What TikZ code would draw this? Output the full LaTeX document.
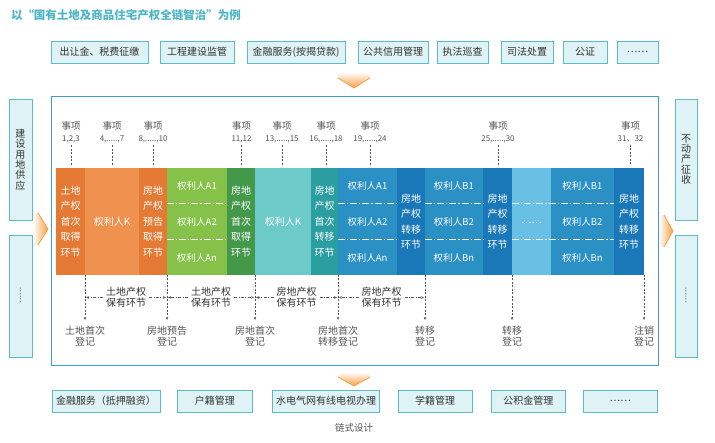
\documentclass[tikz,border=0pt]{standalone}
\usepackage{fontspec}
\setmainfont{Noto Sans CJK SC}
\usetikzlibrary{arrows.meta}
\definecolor{boxfill}{HTML}{DFF2F5}
\definecolor{boxline}{HTML}{5BBCC8}
\definecolor{frameblue}{HTML}{3A9FD4}
\definecolor{titlec}{HTML}{4DB6C6}
\definecolor{txtgray}{HTML}{333333}
\definecolor{lblgray}{HTML}{555555}
\definecolor{arrowor}{HTML}{F7A048}
\definecolor{orA}{HTML}{E57A35}
\definecolor{orB}{HTML}{EF924F}
\definecolor{grA}{HTML}{86C24A}
\definecolor{grB}{HTML}{43984A}
\definecolor{tlA}{HTML}{6CCAC8}
\definecolor{tlB}{HTML}{2A9EA0}
\definecolor{blA}{HTML}{2B90C4}
\definecolor{blB}{HTML}{1A78B8}
\definecolor{blC}{HTML}{68C0E4}
\newcommand{\evdots}{.....}
\begin{document}
\begin{tikzpicture}[x=1pt,y=-1pt,
  every node/.style={inner sep=0pt, outer sep=0pt},
  svcbox/.style={draw=boxline, fill=boxfill, line width=0.9pt, minimum height=22pt, text=txtgray, font=\fontsize{10}{12}\selectfont},
  sidebox/.style={draw=boxline, fill=boxfill, line width=0.9pt, minimum width=23pt, text=txtgray, font=\fontsize{10}{10.4}\selectfont, align=center},
  col/.style={minimum height=107pt, text=white, font=\fontsize{10}{15.5}\selectfont, align=center},
  celltxt/.style={text=white, font=\fontsize{9.5}{11}\selectfont},
  rowsep/.style={draw=white, line width=0.8pt, dash pattern=on 7pt off 2pt on 1.2pt off 2pt},
  evtxt/.style={text=lblgray, font=\fontsize{9.5}{11}\selectfont},
  evnum/.style={text=lblgray, font=\fontsize{8}{9}\selectfont},
  evline/.style={draw=lblgray, line width=0.6pt, dash pattern=on 2pt off 1.5pt},
  regtxt/.style={text=lblgray, font=\fontsize{10}{11}\selectfont, align=center},
  regline/.style={draw=lblgray, line width=0.6pt, dash pattern=on 2pt off 1.5pt, -{Stealth[length=3pt,width=2.5pt]}},
  holdtxt/.style={text=txtgray, font=\fontsize{10}{11}\selectfont, align=center, fill=white, inner xsep=3pt},
  holdline/.style={draw=lblgray, line width=0.6pt, dash pattern=on 3pt off 1.5pt on 0.8pt off 1.5pt, -{Stealth[length=3pt,width=2.5pt]}},
  chevedge/.style={draw=arrowor, line width=0.8pt, line join=miter}
]
\useasboundingbox (0,0) rectangle (715,443);
\fill[white] (0,0) rectangle (715,443);

% title
\node[anchor=west, text=titlec, font=\fontsize{11.5}{13}\selectfont\bfseries] (title) at (11,15) {以“国有土地及商品住宅产权全链智治”为例};

% top service boxes
\node[svcbox, minimum width=97pt] (t1) at (99.5,52) {出让金、税费征缴};
\node[svcbox, minimum width=74pt] (t2) at (197,52) {工程建设监管};
\node[svcbox, minimum width=98pt] (t3) at (296,52) {金融服务(按揭贷款)};
\node[svcbox, minimum width=70pt] (t4) at (393,52) {公共信用管理};
\node[svcbox, minimum width=51pt] (t5) at (462.5,52) {执法巡查};
\node[svcbox, minimum width=52pt] (t6) at (527,52) {司法处置};
\node[svcbox, minimum width=44pt] (t7) at (585,52) {公证};
\node[svcbox, minimum width=41pt] (t8) at (637.5,52) {……};

% top arrow
\shade[top color=white, bottom color=arrowor] (340,72) -- (368,72) -- (370,78) -- (354,88) -- (338,78) -- cycle;
\draw[chevedge] (338,78) -- (354,88) -- (370,78);

% frame
\node[draw=frameblue, line width=1pt, minimum width=607pt, minimum height=269pt] (frame) at (354.5,231.5) {};

% side boxes
\node[sidebox, minimum height=121pt] (l1) at (20.5,159.5) {建\\设\\用\\地\\供\\应};
\node[sidebox, minimum height=122pt] (l2) at (20.5,296) {};
\node[rotate=90, text=txtgray, font=\fontsize{7.5}{8}\selectfont] (l2d) at (l2.center) {……};
\node[sidebox, minimum width=22pt, minimum height=121pt] (s1) at (686,159.5) {不\\动\\产\\征\\收};
\node[sidebox, minimum width=22pt, minimum height=122pt] (s2) at (686,296) {};
\node[rotate=90, text=txtgray, font=\fontsize{7.5}{8}\selectfont] (s2d) at (s2.center) {……};

% side arrows
\shade[left color=white, right color=arrowor] (33,214) -- (38,213) -- (48,229) -- (38,245) -- (33,244) -- cycle;
\draw[chevedge] (38,213) -- (48,229) -- (38,245);
\shade[left color=white, right color=arrowor] (659,216) -- (664,215) -- (673,231) -- (664,247) -- (659,246) -- cycle;
\draw[chevedge] (664,215) -- (673,231) -- (664,247);

% band columns
\node[col, fill=orA, minimum width=29pt] (c1) at (70.5,221.5) {土地\\产权\\首次\\取得\\环节};
\node[col, fill=orB, minimum width=54pt] (c2) at (112,221.5) {权利人K};
\node[col, fill=orA, minimum width=28pt] (c3) at (153,221.5) {房地\\产权\\预告\\取得\\环节};
\node[col, fill=grA, minimum width=60pt] (c4) at (197,221.5) {};
\node[col, fill=grB, minimum width=28pt] (c5) at (241,221.5) {房地\\产权\\首次\\取得\\环节};
\node[col, fill=tlA, minimum width=56pt] (c6) at (283,221.5) {权利人K};
\node[col, fill=tlB, minimum width=27pt] (c7) at (324.5,221.5) {房地\\产权\\首次\\转移\\环节};
\node[col, fill=blA, minimum width=59pt] (c8) at (367.5,221.5) {};
\node[col, fill=blB, minimum width=28pt] (c9) at (411,221.5) {房地\\产权\\转移\\环节};
\node[col, fill=blA, minimum width=58pt] (c10) at (454,221.5) {};
\node[col, fill=blB, minimum width=29pt] (c11) at (497.5,221.5) {房地\\产权\\转移\\环节};
\node[col, fill=blC, minimum width=39pt] (c12) at (531.5,221.5) {};
\node[col, fill=blA, minimum width=63pt] (c13) at (582.5,221.5) {};
\node[col, fill=blB, minimum width=30pt] (c14) at (629,221.5) {房地\\产权\\转移\\环节};

% row separators
\foreach \a/\b in {c4/c4, c8/c8, c10/c10, c12/c13} {
  \draw[rowsep] ([yshift=18.5pt]\a.west) -- ([yshift=18.5pt]\b.east);
  \draw[rowsep] ([yshift=-17.5pt]\a.west) -- ([yshift=-17.5pt]\b.east);
}

% cell texts
\node[celltxt] (a4a) at (197,185.5) {权利人A1};
\node[celltxt] (a4b) at (197,221.5) {权利人A2};
\node[celltxt] (a4c) at (197,257.5) {权利人An};
\node[celltxt] (a8a) at (367.5,185.5) {权利人A1};
\node[celltxt] (a8b) at (367.5,221.5) {权利人A2};
\node[celltxt] (a8c) at (367.5,257.5) {权利人An};
\node[celltxt] (b10a) at (454,185.5) {权利人B1};
\node[celltxt] (b10b) at (454,221.5) {权利人B2};
\node[celltxt] (b10c) at (454,257.5) {权利人Bn};
\node[celltxt] (d12) at (531.5,223) {……};
\node[celltxt] (b13a) at (582.5,185.5) {权利人B1};
\node[celltxt] (b13b) at (582.5,221.5) {权利人B2};
\node[celltxt] (b13c) at (582.5,257.5) {权利人Bn};

% events
\foreach \i/\x/\n/\c in {1/71/{1,2,3}/c1, 2/112/{4,\evdots,7}/c2, 3/153/{8,\evdots,10}/c3, 4/241.5/{11,12}/c5, 5/282/{13,\evdots,15}/c6, 6/326/{16,\evdots,18}/c7, 7/370/{19,\evdots,24}/c8, 8/498/{25,\evdots,30}/c11, 9/630.5/{31、32}/c14} {
  \node[evtxt] (e\i) at (\x,126) {事项};
  \node[evnum] (n\i) at (\x,139) {\n};
  \draw[evline, shorten <=2.5pt, shorten >=3pt] (n\i.south) -- (n\i.south |- \c.north);
}

% registrations
\node[regtxt] (r1) at (85,336) {土地首次\\登记};
\node[regtxt] (r2) at (167,336) {房地预告\\登记};
\node[regtxt] (r3) at (255,336) {房地首次\\登记};
\node[regtxt] (r4) at (338,336) {房地首次\\转移登记};
\node[regtxt] (r5) at (425,336) {转移\\登记};
\node[regtxt] (r6) at (512,336) {转移\\登记};
\node[regtxt] (r7) at (644,336) {注销\\登记};
\draw[regline] (c1.south east) -- ([yshift=6pt]r1.north);
\draw[regline] (c3.south east) -- ([yshift=6pt]r2.north);
\draw[regline] (c5.south east) -- ([yshift=6pt]r3.north);
\draw[regline] (c7.south east) -- ([yshift=6pt]r4.north);
\draw[regline] (c9.south east) -- ([yshift=6pt]r5.north);
\draw[regline] (c11.south east) -- ([yshift=6pt]r6.north);
\draw[regline] (c14.south east) -- ([yshift=6pt]r7.north);

% holding phases
\node[holdtxt] (h1) at (126,297.5) {土地产权\\保有环节};
\node[holdtxt] (h2) at (211,297.5) {土地产权\\保有环节};
\node[holdtxt] (h3) at (296.5,297.5) {房地产权\\保有环节};
\node[holdtxt] (h4) at (381.5,297.5) {房地产权\\保有环节};
\draw[holdline, shorten >=1pt] (h1.west) -- (c1.south east |- h1);
\draw[holdline, shorten >=1pt] (h1.east) -- (c3.south east |- h1);
\draw[holdline, shorten >=1pt] (h2.west) -- (c3.south east |- h2);
\draw[holdline, shorten >=1pt] (h2.east) -- (c5.south east |- h2);
\draw[holdline, shorten >=1pt] (h3.west) -- (c5.south east |- h3);
\draw[holdline, shorten >=1pt] (h3.east) -- (c7.south east |- h3);
\draw[holdline, shorten >=1pt] (h4.west) -- (c7.south east |- h4);
\draw[holdline, shorten >=1pt] (h4.east) -- (c9.south east |- h4);

% bottom arrow
\shade[top color=white, bottom color=arrowor] (341,372) -- (367,372) -- (370,377) -- (354,386) -- (338,377) -- cycle;
\draw[chevedge] (338,377) -- (354,386) -- (370,377);

% bottom service boxes
\node[svcbox, minimum width=108pt] (b1) at (106,401) {金融服务（抵押融资）};
\node[svcbox, minimum width=74.5pt] (b2) at (214.75,401) {户籍管理};
\node[svcbox, minimum width=107pt] (b3) at (326,401) {水电气网有线电视办理};
\node[svcbox, minimum width=74pt] (b4) at (435,401) {学籍管理};
\node[svcbox, minimum width=74.5pt] (b5) at (528.3,401) {公积金管理};
\node[svcbox, minimum width=74.5pt] (b6) at (620.25,401) {……};

\node[text=lblgray, font=\fontsize{9.5}{11}\selectfont] (cap) at (354,428) {链式设计};
\end{tikzpicture}
\end{document}
